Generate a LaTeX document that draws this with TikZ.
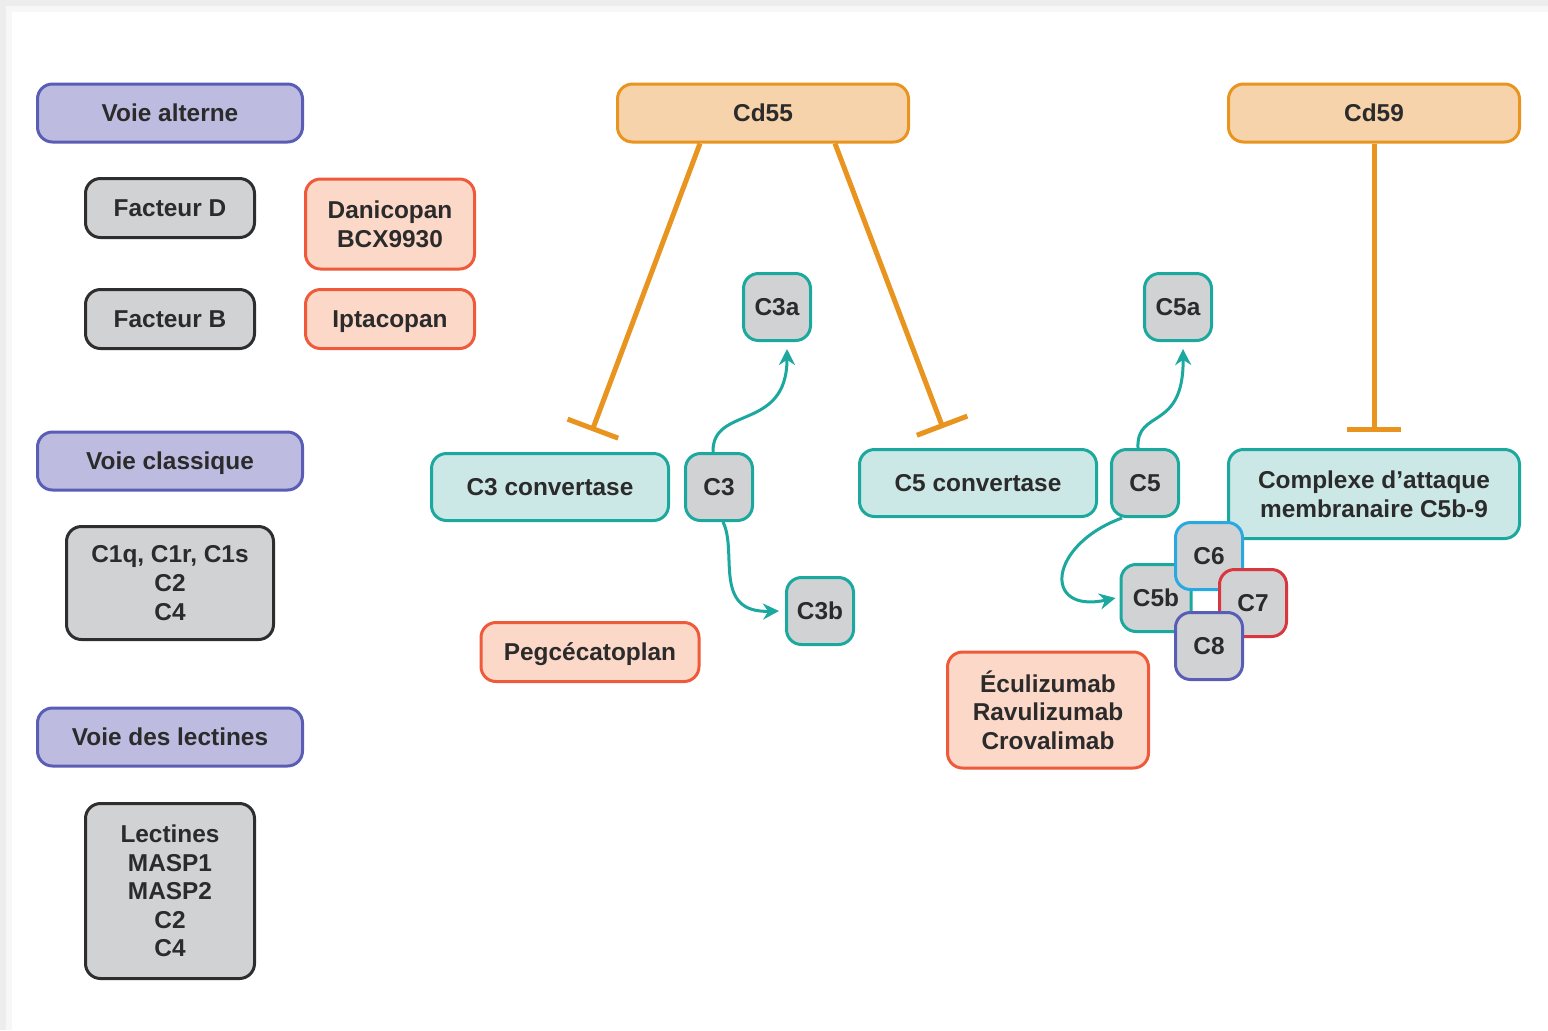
\documentclass[tikz,border=0pt]{standalone}
\usepackage{fontspec}
\setmainfont{Liberation Sans}
\usetikzlibrary{arrows.meta}

\definecolor{txt}{HTML}{2B2B2B}
\definecolor{voiefill}{HTML}{BDBCE0}
\definecolor{voiedraw}{HTML}{5A5DB5}
\definecolor{grisfill}{HTML}{D1D2D4}
\definecolor{grisdraw}{HTML}{2E2E2E}
\definecolor{medfill}{HTML}{FCD8C8}
\definecolor{meddraw}{HTML}{EE5A3A}
\definecolor{regfill}{HTML}{F6D3AB}
\definecolor{regdraw}{HTML}{E8941E}
\definecolor{convfill}{HTML}{CCE8E6}
\definecolor{tealdraw}{HTML}{1BA89F}
\definecolor{c6draw}{HTML}{2AA8E0}
\definecolor{c7draw}{HTML}{D8373F}

\tikzset{
  box/.style={rounded corners=7.5pt, line width=1.5pt, align=center, text=txt,
    inner sep=0pt, font=\fontsize{12.2}{14.3}\selectfont\bfseries},
  oneline/.style={text height=10pt, text depth=1.2pt},
  voie/.style={box, oneline, draw=voiedraw, fill=voiefill, minimum width=132.5pt, minimum height=29pt},
  facteur/.style={box, draw=grisdraw, fill=grisfill},
  medic/.style={box, draw=meddraw, fill=medfill},
  regul/.style={box, oneline, draw=regdraw, fill=regfill, minimum width=145.5pt, minimum height=29pt},
  conv/.style={box, draw=tealdraw, fill=convfill},
  frag/.style={box, oneline, draw=tealdraw, fill=grisfill, minimum width=33.5pt, minimum height=33.5pt},
  inhib/.style={draw=regdraw, line width=2.5pt, -{Bar[width=27pt, line width=2.5pt]}},
  flow/.style={draw=tealdraw, line width=1.5pt, -{Stealth[length=8pt, width=8pt]}}
}

\begin{document}
\begin{tikzpicture}[x=0.5pt, y=-0.5pt]
  \useasboundingbox (0,0) rectangle (1548,1030);
  \fill[black!7] (0,0) rectangle (1548,1030);
  \fill[black!3] (6,6) rectangle (1548,1030);
  \fill[white] (12,12) rectangle (1548,1030);
  %
  % voies
  \node[voie] (alterne) at (170,113) {Voie alterne};
  \node[facteur, oneline, minimum width=84.5pt, minimum height=29.5pt] (factd) at (170,208) {Facteur D};
  \node[facteur, oneline, minimum width=84.5pt, minimum height=29.5pt] (factb) at (170,319) {Facteur B};
  \node[medic, minimum width=84.5pt, minimum height=45pt] (danico) at (390,224) {Danicopan\\BCX9930};
  \node[medic, oneline, minimum width=84.5pt, minimum height=29.5pt] (iptaco) at (390,319) {Iptacopan};
  %
  \node[voie] (classique) at (170,461) {Voie classique};
  \node[facteur, minimum width=103.5pt, minimum height=56.5pt] (cun) at (170,583) {C1q, C1r, C1s\\C2\\C4};
  %
  \node[voie] (lectines) at (170,737) {Voie des lectines};
  \node[facteur, minimum width=84.5pt, minimum height=87.5pt] (masp) at (170,891) {Lectines\\MASP1\\MASP2\\C2\\C4};
  %
  % regulateurs
  \node[regul] (cd55) at (763,113) {Cd55};
  \node[regul] (cd59) at (1374,113) {Cd59};
  %
  % C3
  \node[conv, oneline, minimum width=118.5pt, minimum height=33.5pt] (c3conv) at (550,487) {C3 convertase};
  \node[frag] (c3) at (719,487) {C3};
  \node[frag] (c3a) at (777,307) {C3a};
  \node[frag] (c3b) at (820,611) {C3b};
  \node[medic, oneline, minimum width=109pt, minimum height=29.5pt] (pegce) at (590,652) {Pegcécatoplan};
  %
  % C5
  \node[conv, oneline, minimum width=118.5pt, minimum height=33.5pt] (c5conv) at (978,483) {C5 convertase};
  \node[frag] (c5) at (1145,483) {C5};
  \node[frag] (c5a) at (1178,307) {C5a};
  \node[conv, minimum width=145.5pt, minimum height=44.5pt] (cam) at (1374,494) {Complexe d’attaque\\membranaire C5b-9};
  \node[frag, minimum width=35pt] (c5b) at (1156,598) {C5b};
  \node[frag, draw=c6draw] (c6) at (1209,556) {C6};
  \node[frag, draw=c7draw] (c7) at (1253,603) {C7};
  \node[frag, draw=voiedraw] (c8) at (1209,646) {C8};
  \node[medic, minimum width=100.5pt, minimum height=58pt] (eculi) at (1048,710) {Éculizumab\\Ravulizumab\\Crovalimab};
  %
  % inhibitions
  \coordinate (stopc3) at (592,431);
  \coordinate (stopc5) at (943,428);
  \coordinate (stopcam) at (1374,432);
  \draw[inhib] ([xshift=-31.5pt]cd55.south) -- (stopc3);
  \draw[inhib] ([xshift=36pt]cd55.south) -- (stopc5);
  \draw[inhib] (cd59.south) -- (stopcam);
  %
  % clivages
  \draw[flow] ([xshift=-3pt]c3.north) .. controls (712,405) and (787,432) .. ([xshift=5pt, yshift=-3.5pt]c3a.south);
  \draw[flow] ([xshift=2pt]c3.south) .. controls (738,552) and (712,613) .. ([xshift=-3pt]c3b.west);
  \draw[flow] ([xshift=-3.5pt]c5.north) .. controls (1136,408) and (1184,432) .. ([xshift=2.5pt, yshift=-3.5pt]c5a.south);
  \draw[flow] ([xshift=-11.5pt]c5.south) .. controls (1048,545) and (1042,614) .. ([xshift=-2pt]c5b.west);
\end{tikzpicture}
\end{document}
